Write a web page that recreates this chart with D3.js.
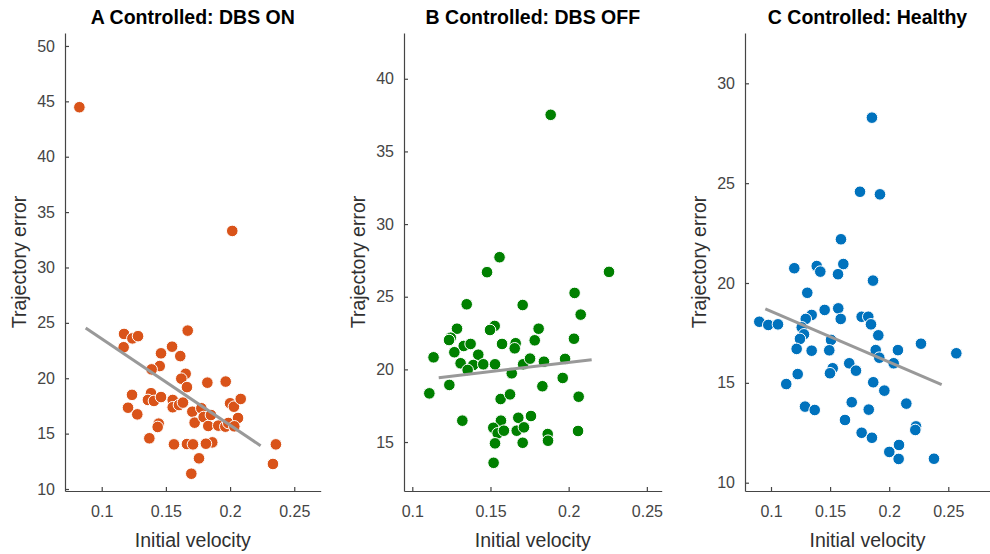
<!DOCTYPE html>
<html>
<head>
<meta charset="utf-8">
<script src="https://cdn.jsdelivr.net/npm/d3@7"></script>
<style>
  body { margin: 0; background: #fff; }
  text { font-family: "Liberation Sans", Arial, Helvetica, sans-serif; }
</style>
</head>
<body>
<div id="chart"></div>
<script>
// panel titles
var titles = ["A Controlled: DBS ON", "B Controlled: DBS OFF", "C Controlled: Healthy"];

// A: DBS ON
var velA = [0.0826, 0.2017, 0.1174, 0.1171, 0.1239, 0.1283, 0.167, 0.1548, 0.1612, 0.1462, 0.1452, 0.1389,
  0.1654, 0.162, 0.1664, 0.1823, 0.1966, 0.1236, 0.1384, 0.136, 0.1407, 0.1462, 0.1205, 0.1277, 0.1553, 0.1553,
  0.1602, 0.1633, 0.1444, 0.1436, 0.1371, 0.1563, 0.1664, 0.1711, 0.1706, 0.1724, 0.1776, 0.1794, 0.183, 0.1851,
  0.1861, 0.1812, 0.1758, 0.1698, 0.1908, 0.1963, 0.1986, 0.2, 0.203, 0.2083, 0.2062, 0.2033, 0.2357, 0.2334];
var errA = [44.47, 33.3, 24.0, 22.8, 23.6, 23.8, 24.3, 22.85, 22.0, 22.25, 21.1, 20.8,
  20.4, 19.96, 19.2, 19.6, 19.7, 18.5, 18.65, 18.04, 17.95, 18.3, 17.34, 16.74, 18.04, 17.38,
  17.58, 17.8, 15.9, 15.6, 14.58, 14.03, 14.06, 14.03, 16.98, 15.99, 17.29, 16.5, 15.69, 16.68,
  14.21, 14.09, 12.77, 11.38, 15.72, 15.63, 15.96, 17.74, 17.43, 18.13, 16.41, 15.66, 14.03, 12.26];
var fitVelA = [0.0875, 0.2238];
var fitErrA = [24.54, 13.91];

// B: DBS OFF
var velB = [0.1885, 0.1558, 0.1478, 0.1348, 0.1706, 0.1286, 0.1527, 0.1497, 0.1246, 0.1235, 0.1329, 0.1373,
  0.1574, 0.1661, 0.1655, 0.1136, 0.1269, 0.1422, 0.1309, 0.139, 0.1454, 0.1529, 0.1354, 0.1237, 0.1109, 0.1636,
  0.1565, 0.1625, 0.132, 0.1567, 0.1518, 0.1546, 0.1586, 0.1678, 0.1668, 0.1714, 0.1529, 0.1706, 0.152, 0.1709,
  0.2258, 0.2038, 0.2077, 0.1808, 0.1783, 0.2034, 0.1753, 0.1842, 0.1977, 0.1962, 0.1832, 0.2064, 0.1759, 0.1866,
  0.1868, 0.206];
var errB = [37.52, 27.72, 26.69, 24.48, 24.43, 22.8, 22.99, 22.71, 22.18, 22.02, 21.61, 21.75,
  21.75, 21.8, 21.45, 20.83, 21.18, 21.01, 20.42, 20.3, 20.35, 20.35, 19.96, 18.93, 18.35, 19.73,
  17.96, 18.28, 16.47, 16.47, 15.98, 15.6, 15.78, 16.67, 15.78, 16.01, 14.91, 14.95, 13.57, 20.35,
  26.71, 25.26, 23.77, 22.8, 22.0, 22.11, 20.74, 20.53, 20.72, 19.41, 18.84, 18.12, 16.79, 15.55,
  15.09, 15.76];
var fitVelB = [0.1169, 0.2147];
var fitErrB = [19.43, 20.67];

// C: Healthy
var velC = [0.1854, 0.1753, 0.1922, 0.1592, 0.1197, 0.1387, 0.1417, 0.1612, 0.1567, 0.1307, 0.0901, 0.0977,
  0.1059, 0.1344, 0.1294, 0.1454, 0.1569, 0.159, 0.126, 0.1279, 0.1245, 0.1508, 0.1217, 0.1344, 0.1493, 0.1226,
  0.1129, 0.1522, 0.1499, 0.1662, 0.1719, 0.1288, 0.137, 0.1683, 0.1626, 0.1767, 0.1767, 0.1863, 0.1823, 0.1846,
  0.1908, 0.1886, 0.1916, 0.2074, 0.2038, 0.2269, 0.2568, 0.1865, 0.1959, 0.2145, 0.1827, 0.2227, 0.2221, 0.1854,
  0.2001, 0.2083, 0.208, 0.2379];
var errC = [28.28, 24.57, 24.44, 22.19, 20.74, 20.85, 20.57, 20.95, 20.44, 19.51, 18.06, 17.9,
  17.93, 18.4, 18.2, 18.65, 18.73, 18.2, 17.78, 17.43, 17.2, 17.15, 16.7, 16.61, 16.63, 15.44,
  14.94, 15.73, 15.48, 15.98, 15.61, 13.81, 13.64, 14.03, 13.14, 12.5, 18.31, 20.12, 18.31, 17.93,
  17.38, 16.64, 16.26, 16.64, 15.98, 16.96, 16.48, 15.03, 14.61, 13.96, 13.66, 12.82, 12.64, 12.25,
  11.54, 11.89, 11.19, 11.2];
var fitVelC = [0.0952, 0.2444];
var fitErrC = [18.70, 14.91];

// tick values
var xTicks = [0.1, 0.15, 0.2, 0.25];
var yTicksA = [10, 15, 20, 25, 30, 35, 40, 45, 50];
var yTicksB = [15, 20, 25, 30, 35, 40];
var yTicksC = [10, 15, 20, 25, 30];

var svgWidth = 990;
var svgHeight = 554;
var plotTop = 33, plotBottom = 491;
var axisColor = "#454545";

var svg = d3.select("#chart")
  .append("svg")
  .attr("width", svgWidth)
  .attr("height", svgHeight);

var panels = [
  { title: titles[0], vel: velA, err: errA, fitVel: fitVelA, fitErr: fitErrA, yTicks: yTicksA,
    color: "#D95319", left: 65, right: 320.7, xDom: [0.0714, 0.2706], yDom: [9.82, 51.17] },
  { title: titles[1], vel: velB, err: errB, fitVel: fitVelB, fitErr: fitErrB, yTicks: yTicksB,
    color: "#008000", left: 404, right: 661.7, xDom: [0.0947, 0.2595], yDom: [11.63, 43.15] },
  { title: titles[2], vel: velC, err: errC, fitVel: fitVelC, fitErr: fitErrC, yTicks: yTicksC,
    color: "#0072BD", left: 745, right: 990, xDom: [0.078, 0.2853], yDom: [9.584, 32.52] }
];

panels.forEach(function(p) {
  var width = p.right - p.left;
  var height = plotBottom - plotTop;

  var g = svg.append("g")
    .attr("transform", `translate(${p.left}, ${plotTop})`);

  var x = d3.scaleLinear().domain(p.xDom).range([0, width]);
  var y = d3.scaleLinear().domain(p.yDom).range([height, 0]);

  var points = p.vel.map(function(v, i) { return { v: v, e: p.err[i] }; });

  // scatter
  g.selectAll("circle")
    .data(points)
    .enter()
    .append("circle")
    .attr("cx", d => x(d.v))
    .attr("cy", d => y(d.e))
    .attr("r", 5.8)
    .attr("fill", p.color)
    .attr("stroke", "#fff")
    .attr("stroke-width", 1);

  // fit line
  var fit = p.fitVel.map(function(v, i) { return [v, p.fitErr[i]]; });
  g.append("path")
    .datum(fit)
    .attr("fill", "none")
    .attr("stroke", "#999999")
    .attr("stroke-width", 3)
    .attr("d", d3.line().x(d => x(d[0])).y(d => y(d[1])));

  // axes
  var bottomAxis = d3.axisBottom(x)
    .tickValues(xTicks)
    .tickFormat(d => String(d))
    .tickSizeInner(-4)
    .tickSizeOuter(0)
    .tickPadding(15);
  var leftAxis = d3.axisLeft(y)
    .tickValues(p.yTicks)
    .tickSizeInner(-4)
    .tickSizeOuter(0)
    .tickPadding(10);

  var xg = g.append("g")
    .attr("transform", `translate(0, ${height})`)
    .call(bottomAxis);
  var yg = g.append("g")
    .call(leftAxis);

  [xg, yg].forEach(function(a) {
    a.selectAll("path, line").attr("stroke", axisColor).attr("stroke-width", 1.2);
    a.selectAll("text").attr("fill", axisColor).style("font-size", "16px");
  });

  // labels
  g.append("text")
    .attr("x", width / 2)
    .attr("y", 514)
    .attr("text-anchor", "middle")
    .attr("fill", "#303030")
    .style("font-size", "19.5px")
    .text("Initial velocity");

  g.append("text")
    .attr("transform", `translate(-39, ${height / 2}) rotate(-90)`)
    .attr("text-anchor", "middle")
    .attr("fill", "#303030")
    .style("font-size", "19.5px")
    .text("Trajectory error");

  g.append("text")
    .attr("x", width / 2)
    .attr("y", -9)
    .attr("text-anchor", "middle")
    .attr("fill", "#000")
    .style("font-size", "19.5px")
    .style("font-weight", "bold")
    .text(p.title);
});
</script>
</body>
</html>
